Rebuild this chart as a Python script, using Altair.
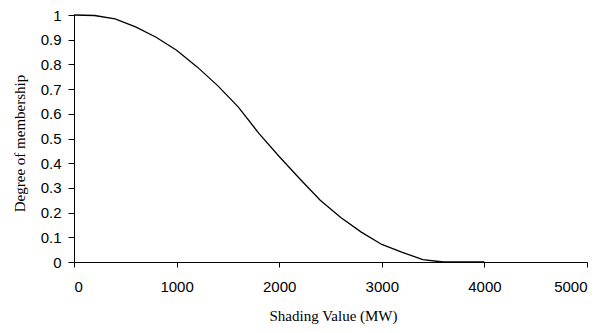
import altair as alt
import pandas as pd

shading_mw = [0, 200, 400, 600, 800, 1000, 1200, 1400, 1600, 1800, 2000,
              2200, 2400, 2600, 2800, 3000, 3200, 3400, 3600, 3800, 4000]
membership = [1.0, 0.998, 0.984, 0.952, 0.91, 0.857, 0.79, 0.714, 0.628, 0.522, 0.427,
              0.337, 0.25, 0.18, 0.121, 0.071, 0.039, 0.010, 0.0, 0.0, 0.0]
x_ticks = [0, 1000, 2000, 3000, 4000, 5000]
y_ticks = [0, 0.1, 0.2, 0.3, 0.4, 0.5, 0.6, 0.7, 0.8, 0.9, 1.0]

df = pd.DataFrame({"x": shading_mw, "y": membership})

chart = alt.Chart(df).mark_line(color="black", strokeWidth=1.3).encode(
    x=alt.X("x:Q", scale=alt.Scale(domain=[0, 5000], nice=False),
            axis=alt.Axis(values=x_ticks, format="d", title="Shading Value (MW)",
                          grid=False, tickSize=5, labelPadding=12,
                          titleX=259, titleY=58, titleBaseline="alphabetic",
                          titleAnchor="middle", titleAlign="center")),
    y=alt.Y("y:Q", scale=alt.Scale(domain=[0, 1], nice=False),
            axis=alt.Axis(values=y_ticks, format="~g", title="Degree of membership",
                          grid=False, tickSize=6, labelPadding=7,
                          titleX=-50, titleY=128, titleBaseline="alphabetic",
                          titleAngle=270, titleAlign="center")),
).properties(
    width=513, height=247,
    autosize=alt.AutoSizeParams(type="none"),
    padding={"left": 66, "top": 7, "right": 15, "bottom": 63},
).configure_view(stroke=None).configure_axis(
    domainColor="black", tickColor="black", domainWidth=1, tickWidth=1,
    labelFont="Liberation Sans", labelFontSize=15, labelColor="black",
    titleFont="Liberation Serif", titleFontSize=15, titleFontWeight="normal",
    titleColor="black",
)

chart.save("out.html", embed_options={"renderer": "svg", "actions": False})
